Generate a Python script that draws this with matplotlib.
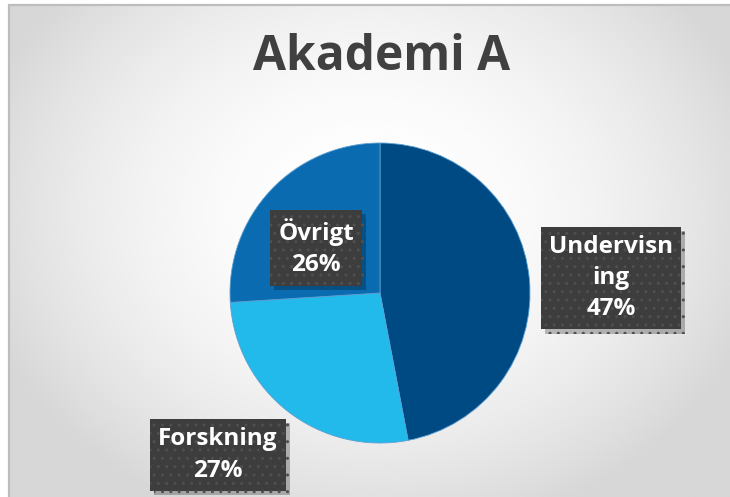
import numpy as np
import matplotlib.pyplot as plt
from matplotlib.patches import Rectangle
from matplotlib import patheffects

# Data
labels = ["Undervisning", "Forskning", "Övrigt"]
shares = [47, 27, 26]
colors = ["#004a84", "#22b9eb", "#0a6bb1"]
box_texts = ["Undervisn\ning\n47%", "Forskning\n27%", "Övrigt\n26%"]

W, H = 730, 497
fig = plt.figure(figsize=(W / 100, H / 100), dpi=100)

# background with soft radial gradient inside the chart frame
bg = fig.add_axes([9 / W, 0, 1 - 9 / W, (H - 5) / H])
yy, xx = np.mgrid[0:1:300j, 0:1:400j]
r2 = ((xx - 0.5) / 0.75) ** 2 + ((yy - 0.42) / 0.9) ** 2
shade = np.clip(1.0 - 0.28 * r2, 0.84, 1.0)
bg.imshow(shade, cmap="gray", vmin=0, vmax=1, extent=[0, 1, 0, 1],
          origin="upper", aspect="auto", interpolation="bicubic")
bg.set_xlim(0, 1)
bg.set_ylim(0, 1)
bg.axis("off")
fig.add_artist(Rectangle((9 / W, -0.01), 1.0, (H - 5) / H + 0.01,
                         transform=fig.transFigure, fill=False,
                         edgecolor="#bdbdbd", linewidth=1.6))

fig.text(382 / W, 1 - 57 / H, "Akademi A", ha="center", va="center",
         fontsize=34.5, fontweight="bold", color="#404040", family="Open Sans")

# pie: centre (380, 293) px, radius 150 px
ax = fig.add_axes([230 / W, (H - 443) / H, 300 / W, 300 / H])
ax.pie(shares, colors=colors, startangle=90, counterclock=False,
       wedgeprops=dict(linewidth=0.6, edgecolor="#5d9fd2"))
ax.set_xlim(-1, 1)
ax.set_ylim(-1, 1)
ax.set_aspect("equal")
ax.axis("off")

# label boxes (figure pixel positions of box centres)
box_pos = [(611, 278), (218, 455), (316, 248)]
for txt, (px, py) in zip(box_texts, box_pos):
    t = fig.text(px / W, 1 - py / H, txt, ha="center", va="center",
                 fontsize=17.5, fontweight="bold", color="white",
                 family="Open Sans", linespacing=1.4, multialignment="center",
                 bbox=dict(boxstyle="square,pad=0.34", facecolor="#3d3d3d",
                           edgecolor="#4f4f4f", linewidth=0, hatch=".."))
    t.get_bbox_patch().set_path_effects([
        patheffects.SimplePatchShadow(offset=(3, -3), shadow_rgbFace="black",
                                      alpha=0.25),
        patheffects.Normal()])

fig.savefig("out.png", dpi=100)
